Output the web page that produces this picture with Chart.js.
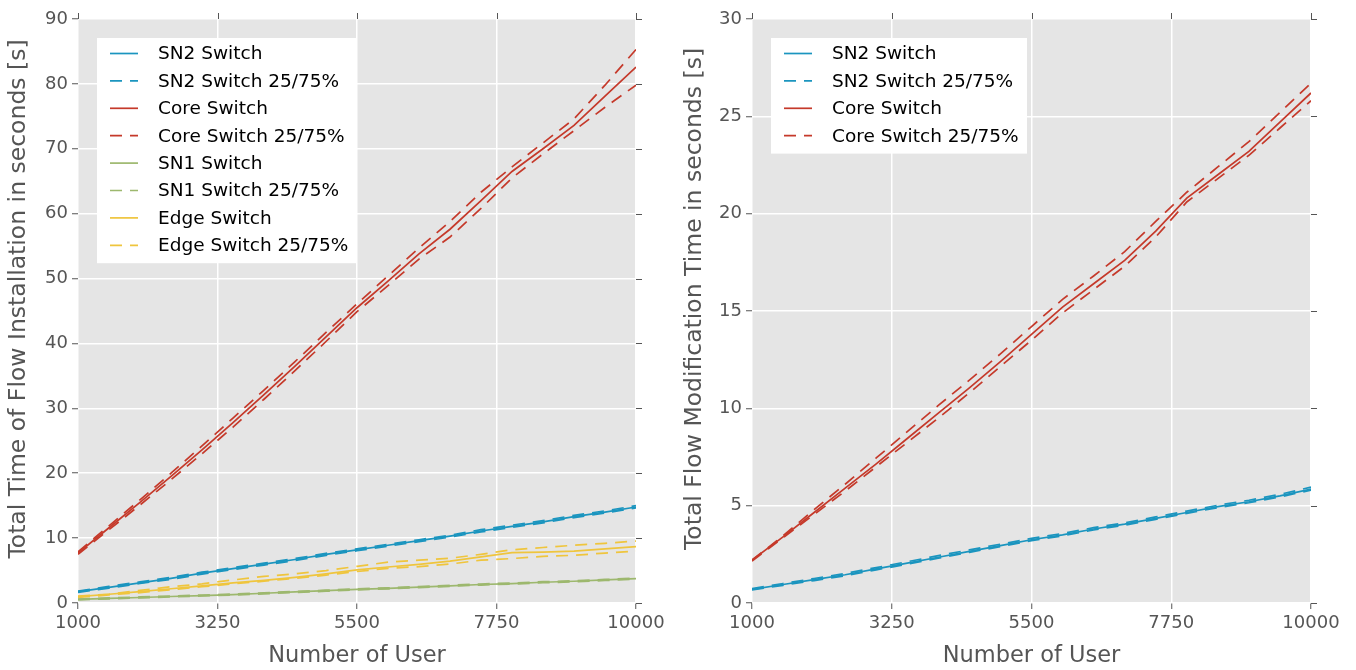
<!DOCTYPE html>
<html>
<head>
<meta charset="utf-8">
<script src="https://cdn.jsdelivr.net/npm/chart.js@4.4.1/dist/chart.umd.min.js"></script>
<style>
  body { margin: 0; background: #fff; }
  .panel { position: absolute; top: 0; width: 678px; height: 670px; }
</style>
</head>
<body>
<div class="panel" style="left:0"><canvas id="installChart" width="678" height="670"></canvas></div>
<div class="panel" style="left:678px"><canvas id="modifyChart" width="678" height="670"></canvas></div>
<script>
// x axis: number of users
const users = [1000, 1500, 2000, 2500, 3000, 3500, 4000, 4500, 5000, 5500,
               6000, 6500, 7000, 7500, 8000, 8500, 9000, 9500, 10000];
const userTicks = [1000, 3250, 5500, 7750, 10000];

// flow installation time [s]
const sn2Install    = [1.75, 2.4, 3.1, 3.8, 4.6, 5.3, 6.0, 6.7, 7.5, 8.2, 8.9, 9.6, 10.3, 11.1, 11.8, 12.5, 13.3, 14.0, 14.8];
const sn2InstallQ75 = [1.85, 2.55, 3.25, 3.95, 4.75, 5.45, 6.15, 6.85, 7.65, 8.35, 9.05, 9.75, 10.45, 11.3, 12.0, 12.7, 13.5, 14.2, 15.0];
const sn2InstallQ25 = [1.65, 2.3, 3.0, 3.65, 4.45, 5.15, 5.85, 6.55, 7.35, 8.05, 8.75, 9.45, 10.15, 10.95, 11.65, 12.35, 13.15, 13.85, 14.65];

const coreInstall    = [7.7, 11.6, 15.5, 19.5, 23.6, 27.8, 32.1, 36.5, 41.0, 45.5, 49.6, 53.8, 57.6, 62.0, 66.5, 70.0, 73.6, 78.1, 82.6];
const coreInstallQ75 = [7.9, 11.9, 15.9, 20.0, 24.2, 28.5, 32.8, 37.2, 41.7, 46.1, 50.4, 54.7, 58.8, 63.3, 67.2, 70.9, 74.6, 79.8, 85.3];
const coreInstallQ25 = [7.5, 11.3, 15.1, 19.0, 23.0, 27.1, 31.4, 35.8, 40.3, 44.9, 48.9, 53.0, 56.4, 60.8, 65.5, 69.2, 72.8, 76.4, 79.8];

const sn1Install    = [0.55, 0.7, 0.85, 1.0, 1.15, 1.3, 1.5, 1.7, 1.9, 2.1, 2.25, 2.45, 2.65, 2.85, 3.0, 3.2, 3.35, 3.55, 3.75];
const sn1InstallQ75 = [0.62, 0.78, 0.93, 1.08, 1.23, 1.38, 1.58, 1.78, 1.98, 2.18, 2.33, 2.53, 2.73, 2.93, 3.08, 3.28, 3.43, 3.63, 3.83];
const sn1InstallQ25 = [0.48, 0.63, 0.78, 0.93, 1.08, 1.23, 1.42, 1.62, 1.82, 2.02, 2.17, 2.37, 2.57, 2.77, 2.92, 3.12, 3.27, 3.47, 3.67];

const edgeInstall    = [0.97, 1.35, 1.74, 2.2, 2.65, 3.1, 3.5, 3.95, 4.5, 5.1, 5.55, 5.95, 6.45, 7.1, 7.75, 7.85, 8.0, 8.35, 8.7];
const edgeInstallQ75 = [1.05, 1.35, 1.95, 2.5, 2.95, 3.55, 4.1, 4.5, 5.0, 5.65, 6.3, 6.6, 6.9, 7.5, 8.2, 8.55, 8.9, 9.2, 9.55];
const edgeInstallQ25 = [0.85, 1.25, 1.6, 2.05, 2.5, 2.95, 3.35, 3.8, 4.3, 4.85, 5.35, 5.6, 6.0, 6.6, 6.85, 7.2, 7.35, 7.7, 8.0];

// flow modification time [s]
const sn2Modify    = [0.7, 0.95, 1.2, 1.45, 1.75, 2.05, 2.35, 2.65, 2.95, 3.25, 3.5, 3.8, 4.05, 4.35, 4.65, 4.95, 5.2, 5.5, 5.85];
const sn2ModifyQ75 = [0.74, 1.0, 1.26, 1.52, 1.82, 2.12, 2.43, 2.73, 3.02, 3.32, 3.57, 3.87, 4.12, 4.42, 4.72, 5.02, 5.28, 5.58, 5.95];
const sn2ModifyQ25 = [0.67, 0.91, 1.15, 1.4, 1.7, 2.0, 2.3, 2.6, 2.9, 3.2, 3.45, 3.75, 4.0, 4.3, 4.6, 4.9, 5.15, 5.45, 5.8];

const coreModify    = [2.2, 3.4, 4.65, 5.9, 7.15, 8.45, 9.75, 11.05, 12.4, 13.8, 15.2, 16.4, 17.6, 19.1, 20.8, 22.0, 23.2, 24.7, 26.2];
const coreModifyQ75 = [2.2, 3.45, 4.8, 6.1, 7.45, 8.8, 10.15, 11.45, 12.8, 14.2, 15.6, 16.8, 18.05, 19.6, 21.1, 22.4, 23.7, 25.2, 26.7];
const coreModifyQ25 = [2.15, 3.35, 4.55, 5.75, 7.0, 8.25, 9.5, 10.8, 12.15, 13.5, 14.9, 16.1, 17.3, 18.8, 20.6, 21.8, 23.0, 24.4, 25.8];

//color
const blue = '#1b95bf';
const red = '#c5392a';
const green = '#9db86e';
const yellow = '#efc53d';
const tickGray = '#555555';
const FONT = "'DejaVu Sans', sans-serif";
const DASH = [12, 8];

const points = (values) => users.map((u, i) => ({ x: u, y: values[i] }));

// one switch = median line plus dashed 25% and 75% lines
const switchSets = (name, color, median, q75, q25) => {
    const base = { borderColor: color, borderWidth: 1.7, pointRadius: 0, fill: false, tension: 0 };
    return [
        { ...base, label: name, data: points(median), inLegend: true },
        { ...base, label: name + ' 25/75%', data: points(q75), borderDash: DASH, inLegend: true },
        { ...base, label: name + ' 25/75% low', data: points(q25), borderDash: DASH, inLegend: false },
    ];
};

const plotBackground = {
    id: 'plotBackground',
    beforeDraw(chart) {
        const { ctx, chartArea: { left, top, width, height } } = chart;
        ctx.save();
        ctx.fillStyle = '#e5e5e5';
        ctx.fillRect(left, top, width, height);
        ctx.restore();
    }
};

// tick marks on the top and right edges
const mirrorTicks = {
    id: 'mirrorTicks',
    afterDraw(chart) {
        const { ctx, chartArea: { top, right }, scales: { x, y } } = chart;
        ctx.save();
        ctx.strokeStyle = tickGray;
        ctx.lineWidth = 1;
        x.ticks.forEach(t => {
            const px = Math.round(x.getPixelForValue(t.value)) + 0.5;
            ctx.beginPath(); ctx.moveTo(px, top); ctx.lineTo(px, top - 6); ctx.stroke();
        });
        y.ticks.forEach(t => {
            const py = Math.round(y.getPixelForValue(t.value)) + 0.5;
            ctx.beginPath(); ctx.moveTo(right, py); ctx.lineTo(right + 6, py); ctx.stroke();
        });
        ctx.restore();
    }
};

// rotated y axis label
const yLabel = {
    id: 'yLabel',
    afterDraw(chart, args, opts) {
        const { ctx } = chart;
        ctx.save();
        ctx.translate(opts.x, opts.y);
        ctx.rotate(-Math.PI / 2);
        ctx.font = `23.5px ${FONT}`;
        ctx.fillStyle = tickGray;
        ctx.textAlign = 'center';
        ctx.textBaseline = 'middle';
        ctx.fillText(opts.text, 0, 0);
        ctx.restore();
    }
};

// white legend box in the upper left of the plot
const boxLegend = {
    id: 'boxLegend',
    afterDatasetsDraw(chart, args, opts) {
        const { ctx, chartArea: { left, top } } = chart;
        const items = chart.data.datasets.filter(d => d.inLegend);
        const bx = left + 19, by = top + 19, rowH = 27.4;
        ctx.save();
        ctx.fillStyle = '#ffffff';
        ctx.fillRect(bx, by, opts.width, items.length * rowH + 6);
        ctx.font = `18.5px ${FONT}`;
        ctx.textBaseline = 'middle';
        items.forEach((d, i) => {
            const cy = by + 15.5 + i * rowH;
            ctx.strokeStyle = d.borderColor;
            ctx.lineWidth = 1.7;
            ctx.setLineDash(d.borderDash || []);
            ctx.beginPath(); ctx.moveTo(bx + 13, cy); ctx.lineTo(bx + 41, cy); ctx.stroke();
            ctx.setLineDash([]);
            ctx.fillStyle = '#000';
            ctx.fillText(d.label, bx + 61, cy + 1);
        });
        ctx.restore();
    }
};

const lineChart = (canvas, datasets, yMax, yStep, yTitle, yWidth, titleX, padRight, legendWidth) => {
    const config = {
        type: 'line',
        data: { datasets: datasets },
        options: {
            responsive: false,
            animation: false,
            devicePixelRatio: 1,
            layout: { padding: { top: 19, right: padRight, left: 0, bottom: 0 } },
            scales: {
                x: {
                    type: 'linear',
                    min: 1000,
                    max: 10000,
                    afterBuildTicks: (scale) => { scale.ticks = userTicks.map(v => ({ value: v })); },
                    afterFit: (scale) => { scale.height = 67; },
                    ticks: { color: tickGray, font: { family: FONT, size: 18 }, padding: 4, maxRotation: 0, callback: v => String(v) },
                    grid: { color: '#ffffff', lineWidth: 1.5, tickColor: tickGray, tickWidth: 1, tickLength: 6 },
                    border: { display: false },
                    title: { display: true, text: 'Number of User', color: tickGray, font: { family: FONT, size: 22.5 }, padding: { top: 0, bottom: 0 } }
                },
                y: {
                    min: 0,
                    max: yMax,
                    afterFit: (scale) => { scale.width = yWidth; },
                    ticks: { stepSize: yStep, color: tickGray, font: { family: FONT, size: 18 }, padding: 4 },
                    grid: { color: '#ffffff', lineWidth: 1.5, tickColor: tickGray, tickWidth: 1, tickLength: 6 },
                    border: { display: false }
                }
            },
            plugins: {
                legend: { display: false },
                tooltip: { enabled: false },
                boxLegend: { width: legendWidth },
                yLabel: { text: yTitle, x: titleX, y: 299 }
            }
        },
        plugins: [plotBackground, mirrorTicks, boxLegend, yLabel]
    };
    return new Chart(canvas, config);
};

const installSets = [
    ...switchSets('SN2 Switch', blue, sn2Install, sn2InstallQ75, sn2InstallQ25),
    ...switchSets('Core Switch', red, coreInstall, coreInstallQ75, coreInstallQ25),
    ...switchSets('SN1 Switch', green, sn1Install, sn1InstallQ75, sn1InstallQ25),
    ...switchSets('Edge Switch', yellow, edgeInstall, edgeInstallQ75, edgeInstallQ25),
];
const modifySets = [
    ...switchSets('SN2 Switch', blue, sn2Modify, sn2ModifyQ75, sn2ModifyQ25),
    ...switchSets('Core Switch', red, coreModify, coreModifyQ75, coreModifyQ25),
];

const installChart = lineChart(document.getElementById('installChart'), installSets, 90, 10,
    'Total Time of Flow Installation in seconds [s]', 78, 19, 42, 260);
const modifyChart = lineChart(document.getElementById('modifyChart'), modifySets, 30, 5,
    'Total Flow Modification Time in seconds [s]', 74, 17, 45, 256);
</script>
</body>
</html>
